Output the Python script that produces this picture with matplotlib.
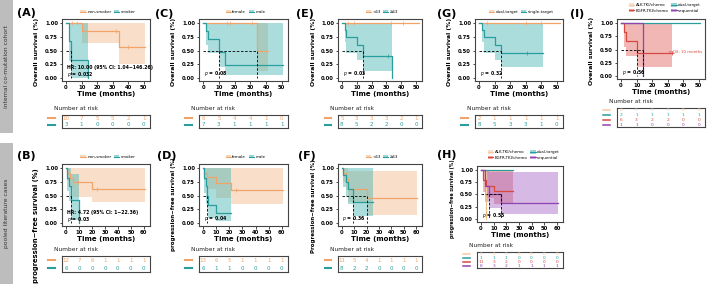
import numpy as np
import matplotlib
matplotlib.use("Agg")
import matplotlib.pyplot as plt
from matplotlib.patches import Patch, Rectangle
from matplotlib.lines import Line2D

W, H = 709, 284

# colours
OR, OR_F = "#F0A46A", "#F3B888"
TE, TE_F = "#2A9D9D", "#45B5B5"
RE, RE_F = "#D9483F", "#E2605A"
PU, PU_F = "#8E44AD", "#A665C6"
PE, PE_F = "#F7C9A5", "#F7C9A5"

# ---- panel A (OS, smoking) ----
A_non_t = [0, 10, 34, 51]
A_non_s = [1, 0.857, 0.571, 0.571]
A_non_lo = [1, 0.64, 0.25, 0.25]
A_non_hi = [1, 1, 1, 1]
A_non_c = [4, 7, 32, 40]
A_smk_t = [0, 2, 3, 14]
A_smk_s = [1, 0.667, 0.333, 0]
A_smk_lo = [1, 0.3, 0.0, 0]
A_smk_hi = [1, 1, 1, 1]
A_risk = [[10, 7, 5, 5, 2, 1], [3, 1, 0, 0, 0, 0]]

# ---- panel B (PFS, smoking) ----
B_non_t = [0, 1, 3, 5, 20, 61]
B_non_s = [1, 0.917, 0.83, 0.74, 0.62, 0.62]
B_non_lo = [1, 0.77, 0.64, 0.48, 0.38, 0.38]
B_non_hi = [1, 1, 1, 1, 1, 1]
B_non_c = [9, 24]
B_smk_t = [0, 1, 2, 4, 10]
B_smk_s = [1, 0.83, 0.67, 0.42, 0]
B_smk_lo = [1, 0.58, 0.4, 0.05, 0]
B_smk_hi = [1, 1, 1, 0.9, 0]
B_risk = [[12, 7, 6, 1, 1, 1, 1], [6, 0, 0, 0, 0, 0, 0]]

# ---- panel C (OS, sex) ----
C_fem_t = [0, 34, 41]
C_fem_s = [1, 0.5, 0.5]
C_fem_lo = [1, 0.12, 0.12]
C_fem_hi = [1, 1, 1]
C_fem_c = [15, 17, 31]
C_male_t = [0, 2, 3, 10, 14, 51]
C_male_s = [1, 0.857, 0.714, 0.476, 0.238, 0.238]
C_male_lo = [1, 0.6, 0.45, 0.2, 0.05, 0.05]
C_male_hi = [1, 1, 1, 1, 1, 1]
C_risk = [[6, 5, 4, 4, 1, 0], [7, 3, 1, 1, 1, 1]]

# ---- panel D (PFS, sex) ----
D_fem_t = [0, 1, 3, 10, 21, 61]
D_fem_s = [1, 0.92, 0.85, 0.73, 0.6, 0.6]
D_fem_lo = [1, 0.78, 0.62, 0.46, 0.35, 0.35]
D_fem_hi = [1, 1, 1, 1, 1, 1]
D_fem_c = [25]
D_male_t = [0, 1, 2, 3, 4, 10, 21]
D_male_s = [1, 0.83, 0.67, 0.5, 0.33, 0.17, 0.17]
D_male_lo = [1, 0.55, 0.35, 0.2, 0.08, 0.03, 0.03]
D_male_hi = [1, 1, 1, 1, 1, 1, 1]
D_risk = [[13, 6, 5, 1, 1, 1, 1], [6, 1, 1, 0, 0, 0, 0]]

# ---- panel E (OS, age) ----
E_lt_t = [0, 52]
E_lt_s = [1, 1]
E_lt_c = [4, 8, 33, 41]
E_ge_t = [0, 2, 3, 10, 14, 34]
E_ge_s = [1, 0.875, 0.75, 0.6, 0.4, 0]
E_ge_lo = [1, 0.65, 0.45, 0.33, 0.13, 0]
E_ge_hi = [1, 1, 1, 1, 1, 0]
E_ge_c = [31]
E_risk = [[5, 3, 3, 3, 2, 1], [8, 5, 2, 2, 0, 0]]

# ---- panel F (PFS, age) ----
F_lt_t = [0, 1, 3, 5, 20, 61]
F_lt_s = [1, 0.91, 0.8, 0.62, 0.45, 0.45]
F_lt_lo = [1, 0.75, 0.6, 0.38, 0.15, 0.15]
F_lt_hi = [1, 1, 1, 0.95, 0.95, 0.95]
F_ge_t = [0, 1, 3, 5, 9, 25]
F_ge_s = [1, 0.87, 0.75, 0.62, 0.38, 0.38]
F_ge_lo = [1, 0.65, 0.48, 0.35, 0.12, 0.12]
F_ge_hi = [1, 1, 1, 1, 1, 1]
F_risk = [[11, 5, 4, 1, 1, 1, 1], [8, 2, 2, 0, 0, 0, 0]]

# ---- panel G (OS, target) ----
G_dual_t = [0, 52]
G_dual_s = [1, 1]
G_single_t = [0, 2, 3, 10, 14, 41]
G_single_s = [1, 0.875, 0.75, 0.6, 0.45, 0.45]
G_single_lo = [1, 0.65, 0.45, 0.33, 0.2, 0.2]
G_single_hi = [1, 1, 1, 1, 1, 1]
G_single_c = [31]
G_risk = [[2, 1, 1, 1, 1, 1], [8, 5, 3, 3, 1, 0]]

# ---- panel H (PFS, treatment) ----
H_alk_t = [0, 4]
H_alk_s = [1, 0]
H_dual_t = [0, 25]
H_dual_s = [1, 1]
H_egfr_t = [0, 2, 4, 10, 25]
H_egfr_s = [1, 0.8, 0.67, 0.58, 0.58]
H_egfr_lo = [1, 0.55, 0.42, 0.3, 0.3]
H_egfr_hi = [1, 1, 1, 1, 1]
H_seq_t = [0, 3, 6, 16, 61]
H_seq_s = [1, 0.67, 0.5, 0.33, 0.33]
H_seq_lo = [1, 0.35, 0.22, 0.1, 0.1]
H_seq_hi = [1, 1, 0.95, 0.95, 0.95]
H_risk = [[1, 1, 0, 0, 0, 0, 0], [1, 1, 1, 0, 0, 0, 0],
          [11, 3, 2, 0, 0, 0, 0], [8, 3, 2, 1, 1, 1, 1]]

# ---- panel I (OS, treatment) ----
I_dual_t = [0, 51]
I_dual_s = [1, 1]
I_egfr_t = [0, 2, 3, 10, 33]
I_egfr_s = [1, 0.83, 0.67, 0.44, 0.44]
I_egfr_lo = [1, 0.55, 0.38, 0.17, 0.17]
I_egfr_hi = [1, 1, 1, 1, 1]
I_egfr_c = [33]
I_seq_t = [0, 14]
I_seq_s = [1, 0]
I_risk = [[0, 0, 0, 0, 0, 0], [2, 1, 1, 1, 1, 1],
          [6, 3, 2, 2, 0, 0], [1, 1, 0, 0, 0, 0]]

two_labels = {"A": ["non-smoker", "smoker"], "B": ["non-smoker", "smoker"],
              "C": ["female", "male"], "D": ["female", "male"],
              "E": ["<63", "\u226563"], "F": ["<63", "\u226563"],
              "G": ["dual-target", "single-target"]}
four_labels = ["ALK-TKI/chemo", "dual-target", "EGFR-TKI/chemo", "sequential"]


def G_(t, s, lo=None, hi=None, c=None, col=TE, fcol=TE_F):
    return dict(t=t, s=s, lo=lo, hi=hi, c=c or [], col=col, fcol=fcol)


panels = {
    "A": dict(groups=[G_(A_non_t, A_non_s, A_non_lo, A_non_hi, A_non_c, OR, OR_F),
                      G_(A_smk_t, A_smk_s, A_smk_lo, A_smk_hi)],
              xmax=50, risk=A_risk, med=[(0, 3, [3])], txt=["HR: 10.00 (95% CI: 1.04~146.26)", "p = 0.032"]),
    "B": dict(groups=[G_(B_non_t, B_non_s, B_non_lo, B_non_hi, B_non_c, OR, OR_F),
                      G_(B_smk_t, B_smk_s, B_smk_lo, B_smk_hi)],
              xmax=60, risk=B_risk, med=[(0, 4, [4])], txt=["HR: 4.72 (95% CI: 1~22.36)", "p = 0.03"]),
    "C": dict(groups=[G_(C_fem_t, C_fem_s, C_fem_lo, C_fem_hi, C_fem_c, OR, OR_F),
                      G_(C_male_t, C_male_s, C_male_lo, C_male_hi)],
              xmax=50, risk=C_risk, med=[(0, 34, [10, 34])], txt=["p = 0.08"]),
    "D": dict(groups=[G_(D_fem_t, D_fem_s, D_fem_lo, D_fem_hi, D_fem_c, OR, OR_F),
                      G_(D_male_t, D_male_s, D_male_lo, D_male_hi)],
              xmax=60, risk=D_risk, med=[(0, 3, [3])], txt=["p = 0.04"]),
    "E": dict(groups=[G_(E_lt_t, E_lt_s, None, None, E_lt_c, OR, OR_F),
                      G_(E_ge_t, E_ge_s, E_ge_lo, E_ge_hi, E_ge_c)],
              xmax=50, risk=E_risk, med=[(0, 14, [14])], txt=["p = 0.03"]),
    "F": dict(groups=[G_(F_lt_t, F_lt_s, F_lt_lo, F_lt_hi, [], OR, OR_F),
                      G_(F_ge_t, F_ge_s, F_ge_lo, F_ge_hi)],
              xmax=60, risk=F_risk, med=[(0, 20, [9, 20])], txt=["p = 0.36"]),
    "G": dict(groups=[G_(G_dual_t, G_dual_s, None, None, [5, 30, 40], OR, OR_F),
                      G_(G_single_t, G_single_s, G_single_lo, G_single_hi, G_single_c)],
              xmax=50, risk=G_risk, med=[(0, 14, [14])], txt=["p = 0.32"]),
    "H": dict(groups=[G_(H_alk_t, H_alk_s, None, None, [], PE, PE_F),
                      G_(H_dual_t, H_dual_s),
                      G_(H_egfr_t, H_egfr_s, H_egfr_lo, H_egfr_hi, [], RE, RE_F),
                      G_(H_seq_t, H_seq_s, H_seq_lo, H_seq_hi, [], PU, PU_F)],
              xmax=60, risk=H_risk, med=[(0, 16, [6, 16])], txt=["p = 0.55"]),
    "I": dict(groups=[G_(I_dual_t, I_dual_s, None, None, [], TE, TE_F),
                      G_(I_egfr_t, I_egfr_s, I_egfr_lo, I_egfr_hi, I_egfr_c, RE, RE_F),
                      G_(I_seq_t, I_seq_s, None, None, [], PU, PU_F)],
              xmax=50, risk=I_risk, med=[(0, 14, [10, 14])], txt=["p = 0.56"]),
}

cols_x = {"A": (62, 150), "C": (199, 288), "E": (338, 422), "G": (475, 563), "I": (617, 705),
          "B": (62, 150), "D": (199, 288), "F": (338, 422), "H": (477, 563)}
label_xy = {"A": (17, 13), "C": (155, 14), "E": (296, 14), "G": (437, 14), "I": (570, 14),
            "B": (17, 156), "D": (157, 156), "F": (298, 156), "H": (437, 155)}
axes_y = {"A": (19, 81), "C": (19, 81), "E": (19, 81), "G": (19, 81), "I": (19, 79),
          "B": (164, 226), "D": (164, 226), "F": (164, 226), "H": (166, 222)}
table_y = {"A": (115, 128), "C": (115, 128), "E": (115, 128), "G": (115, 128), "I": (108, 127),
           "B": (256, 272), "D": (256, 272), "F": (256, 272), "H": (252, 268)}
# y-label: (fontsize, centre y in pixels)
ylab_spec = {"A": (4.4, 52), "C": (4.4, 52), "E": (4.4, 52), "G": (4.4, 52), "I": (4.4, 51),
             "B": (4.9, 226), "D": (4.0, 204), "F": (4.0, 206), "H": (3.3, 199)}
row1 = ["A", "C", "E", "G", "I"]


def rect(x0, y0, x1, y1):
    return [x0 / W, 1 - y1 / H, (x1 - x0) / W, (y1 - y0) / H]


fig = plt.figure(figsize=(W / 100, H / 100), dpi=100)
fig.patch.set_facecolor("white")

# grey side strips
for (y0, y1, txt) in [(0, 133, "internal co-mutation cohort"), (143, 284, "pooled literature cases")]:
    fig.patches.append(Rectangle((0, 1 - y1 / H), 13 / W, (y1 - y0) / H,
                                 transform=fig.transFigure, color="#BDBDBD", lw=0))
    fig.text(6.5 / W, 1 - (y0 + y1) / 2 / H, txt, rotation=90, ha="center", va="center",
             fontsize=4.3, color="#333333")

DASH = dict(ls="--", color="black", lw=0.6, dashes=(3, 2))

for key, p in panels.items():
    x0, x1 = cols_x[key]
    top_row = key in row1
    ay0, ay1 = axes_y[key]
    ax = fig.add_axes(rect(x0, ay0, x1, ay1))
    xmax = p["xmax"]
    for g in p["groups"]:
        t, s = g["t"], g["s"]
        if g["lo"] is not None:
            ax.fill_between(t, g["lo"], g["hi"], step="post", color=g["fcol"], alpha=0.45, lw=0)
        ax.step(t, s, where="post", color=g["col"], lw=0.9)
        if g["c"]:
            idx = np.searchsorted(t, g["c"], side="right") - 1
            ax.plot(g["c"], np.array(s)[idx], "+", color=g["col"], ms=2.5, mew=0.5)
    for (h0, h1, vs) in p["med"]:
        ax.plot([h0, h1], [0.5, 0.5], **DASH)
        for v in vs:
            ax.plot([v, v], [0.5, 0], **DASH)
    if key == "H":
        ax.plot([4, 4], [0.5, 0], ls="--", color="#E8B560", lw=0.6, dashes=(3, 2))
    if key == "I":
        ax.text(31, 0.46, "mOS: 10 months", color=RE, fontsize=2.8, va="center")
    ys = [0.19, 0.06] if len(p["txt"]) == 2 else [0.07]
    for tx, yy in zip(p["txt"], ys):
        if tx.startswith("p"):
            ax.text(0.5, yy, "$\\it{p}$" + tx[1:], fontsize=3.3, fontweight="bold", va="center")
        else:
            ax.text(0.5, yy, tx, fontsize=3.3, fontweight="bold", va="center")
    ax.set_xlim(-0.05 * xmax * 1.04, xmax * 1.08)
    ax.set_ylim(-0.06, 1.08)
    ticks = np.arange(0, xmax + 1, 10)
    ax.set_xticks(ticks)
    ax.set_yticks([0, 0.25, 0.5, 0.75, 1.0])
    ax.set_yticklabels(["0.00", "0.25", "0.50", "0.75", "1.00"])
    ax.tick_params(labelsize=3.8, length=1.8, width=0.5, pad=1)
    for lab in ax.get_xticklabels() + ax.get_yticklabels():
        lab.set_fontweight("bold")
    for sp in ax.spines.values():
        sp.set_color("#444444")
        sp.set_linewidth(0.8)
    ax.set_xlabel("Time (months)", fontsize=5.0, fontweight="bold", labelpad=1)
    if top_row:
        ylab = "Overall survival (%)"
    elif key == "F":
        ylab = "Progression\u2212free survival (%)"
    else:
        ylab = "progression\u2212free survival (%)"
    fs, yc = ylab_spec[key]
    ax.set_ylabel(ylab, fontsize=fs, fontweight="bold")
    ax.yaxis.set_label_coords(-0.26, (ay1 - yc) / (ay1 - ay0))

    # legend
    if key in ("H", "I"):
        cl = [(PE, PE_F), (TE, TE_F), (RE, RE_F), (PU, PU_F)]
        handles = [(Patch(facecolor=f, alpha=0.55, edgecolor="none"), Line2D([], [], color=c, lw=0.8)) for c, f in cl]
        labels = four_labels
        leg_y = ay0 - 11
        order = [0, 2, 1, 3]
        handles = [handles[i] for i in order]
        labels = [labels[i] for i in order]
        leg_x = (x0 + x1) / 2 + 4
    else:
        cl = [(OR, OR_F), (TE, TE_F)]
        handles = [(Patch(facecolor=f, alpha=0.55, edgecolor="none"), Line2D([], [], color=c, lw=0.8)) for c, f in cl]
        labels = two_labels[key]
        leg_y = ay0 - 7
        leg_x = (x0 + x1) / 2 + 2
    fig.legend(handles, labels, loc="center", bbox_to_anchor=(leg_x / W, 1 - leg_y / H),
               ncol=2, fontsize=2.9, frameon=False, handlelength=1.3, handleheight=0.9,
               columnspacing=0.6, handletextpad=0.4, labelspacing=0.3, borderpad=0)

    fig.text(label_xy[key][0] / W, 1 - label_xy[key][1] / H, "(" + key + ")", fontsize=8,
             fontweight="bold", va="center", ha="left")

    # risk table
    risk = p["risk"]
    nrow = len(risk)
    ty0, ty1 = table_y[key]
    tax = fig.add_axes(rect(x0, ty0, x1, ty1))
    tax.set_xlim(ax.get_xlim())
    tax.set_ylim(0, nrow)
    tax.set_xticks([])
    tax.set_yticks([])
    for sp in tax.spines.values():
        sp.set_color("#444444")
        sp.set_linewidth(0.8)
    rcols = [PE, TE, RE, PU] if nrow == 4 else [OR, TE]
    for r, vals in enumerate(risk):
        yy = nrow - r - 0.5
        for tt, v in zip(ticks, vals):
            tax.text(tt, yy, str(v), color=rcols[r], fontsize=4.0 if nrow == 2 else 3.2,
                     ha="center", va="center")
        tax.plot([-0.16, -0.08], [yy / nrow, yy / nrow], transform=tax.transAxes,
                 color=rcols[r], lw=1.5 if nrow == 2 else 1.1, clip_on=False)
    fig.text((x0 - 8) / W, 1 - (ty0 - 6.5) / H, "Number at risk", fontsize=4.2, va="center",
             color="#222222")

fig.savefig("out.png", dpi=100)
